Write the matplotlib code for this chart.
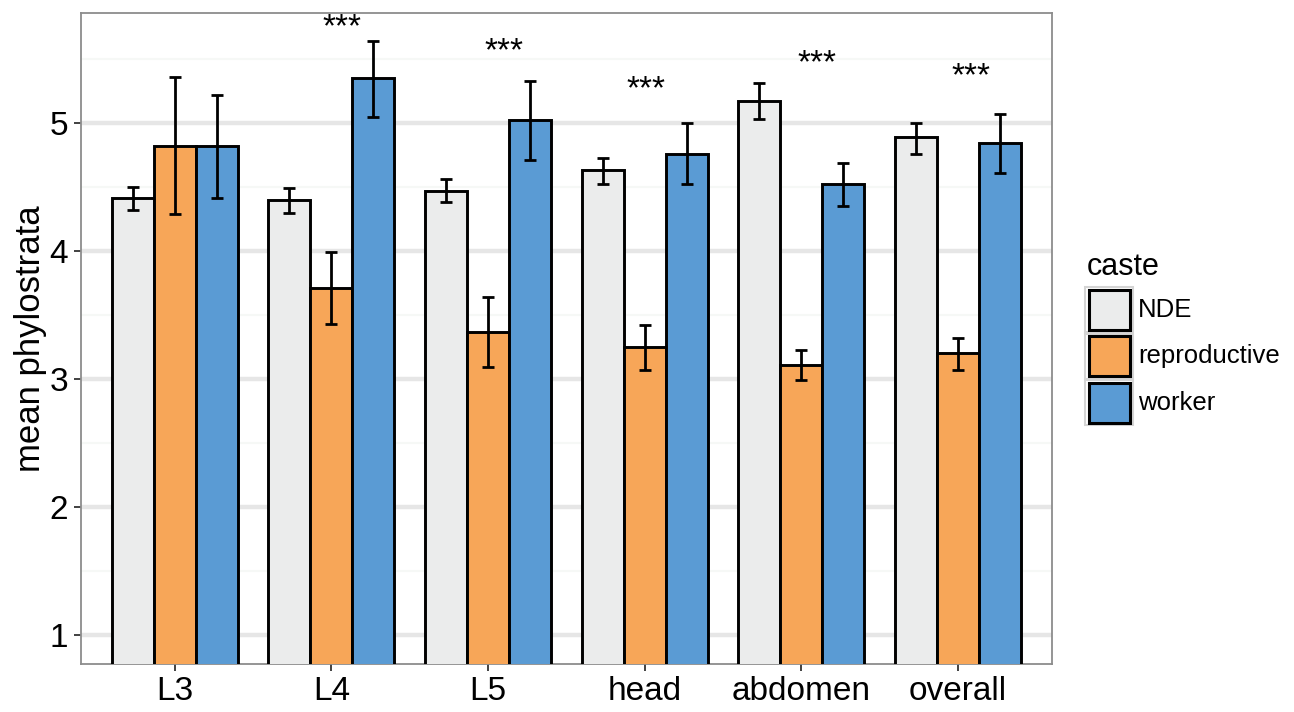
import numpy as np
import matplotlib
matplotlib.use('Agg')
import matplotlib.pyplot as plt
from matplotlib.patches import Rectangle

plt.rcParams['font.family'] = ['Liberation Sans', 'DejaVu Sans']

# mean phylostrata per tissue / stage, with error bar limits
tissues = ['L3', 'L4', 'L5', 'head', 'abdomen', 'overall']
castes = ['NDE', 'reproductive', 'worker']
colors = ['#EBECEC', '#F7A658', '#5A9BD4']

nde_mean = [4.41, 4.40, 4.47, 4.63, 5.17, 4.89]
nde_lo = [4.32, 4.30, 4.38, 4.52, 5.03, 4.76]
nde_hi = [4.50, 4.49, 4.56, 4.73, 5.31, 5.00]

rep_mean = [4.82, 3.71, 3.37, 3.25, 3.11, 3.20]
rep_lo = [4.29, 3.43, 3.09, 3.07, 2.99, 3.07]
rep_hi = [5.36, 3.99, 3.64, 3.42, 3.23, 3.32]

wor_mean = [4.82, 5.35, 5.02, 4.76, 4.52, 4.84]
wor_lo = [4.41, 5.05, 4.71, 4.52, 4.35, 4.61]
wor_hi = [5.22, 5.64, 5.33, 5.00, 4.69, 5.07]

# significance markers: x position (in group units) and top of label
star_groups = ['L4', 'L5', 'head', 'abdomen', 'overall']
star_x = [2.067, 3.103, 4.01, 5.10, 6.084]
star_top = [5.862, 5.679, 5.38, 5.581, 5.484]

W, H = 1294, 712
fig = plt.figure(figsize=(W / 100, H / 100), dpi=100)
ax = fig.add_axes([80.7 / W, 1 - 664 / H, (1052 - 80.7) / W, (664 - 13) / H])

x = np.arange(1, len(tissues) + 1)
bw = 0.268
series = [(nde_mean, nde_lo, nde_hi), (rep_mean, rep_lo, rep_hi), (wor_mean, wor_lo, wor_hi)]
for i, (m, lo, hi) in enumerate(series):
    xs = x + (i - 1) * bw
    m = np.array(m)
    ax.bar(xs, m, width=bw, color=colors[i], edgecolor='black', linewidth=2.1, zorder=3)
    yerr = [m - np.array(lo), np.array(hi) - m]
    ax.errorbar(xs, m, yerr=yerr, fmt='none', ecolor='black', elinewidth=2.0,
                capsize=4.5, capthick=2.0, zorder=4)

for g, sx, st in zip(star_groups, star_x, star_top):
    ax.text(sx, st, '***', ha='center', va='top', fontsize=24, zorder=5)

ax.set_xlim(0.4, 6.6)
ax.set_ylim(0.773, 5.859)
ax.set_xticks(x)
ax.set_xticklabels(tissues)
ax.set_yticks([1, 2, 3, 4, 5])
ax.set_yticks([1.5, 2.5, 3.5, 4.5, 5.5], minor=True)
ax.grid(True, which='major', axis='y', color='#E6E6E6', linewidth=3.2, zorder=0)
ax.grid(True, which='minor', axis='y', color='#F6F8F6', linewidth=1.5, zorder=0)
ax.tick_params(axis='both', which='major', labelsize=24, length=5, width=1.3,
               color='#333333', pad=4)
ax.tick_params(axis='y', which='minor', length=0)
for s in ax.spines.values():
    s.set_color('#8C8C8C')
    s.set_linewidth(1.3)
ax.set_ylabel('mean phylostrata', fontsize=25, labelpad=2)

# legend drawn in pixel space
lg = fig.add_axes([0, 0, 1, 1])
lg.set_xlim(0, W)
lg.set_ylim(H, 0)
lg.axis('off')
lg.patch.set_alpha(0)
lg.text(1087, 275, 'caste', fontsize=22, ha='left', va='baseline')
key_top = [287, 333.5, 380]
for name, c, t in zip(castes, colors, key_top):
    lg.add_patch(Rectangle((1085, t), 48, 45, facecolor='white', edgecolor='#D4D4D4', linewidth=1.5))
    lg.add_patch(Rectangle((1089, t + 2.5), 41, 40, facecolor=c, edgecolor='black', linewidth=2.2))
    lg.text(1138, t + 23, name, fontsize=18.5, ha='left', va='center')

fig.savefig('out.png', dpi=100)
